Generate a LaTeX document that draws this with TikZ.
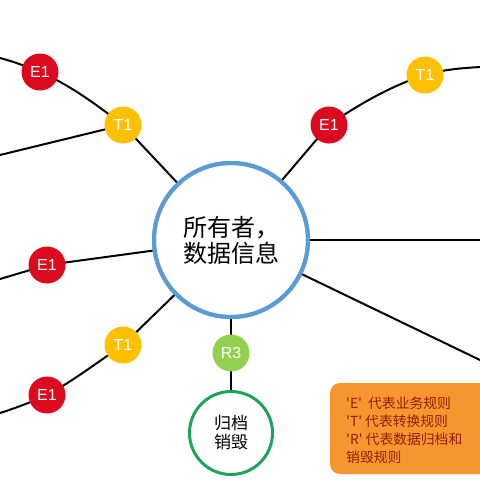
\documentclass[tikz,border=0pt]{standalone}
\usepackage{fontspec}
\setmainfont{Noto Sans CJK SC}
\newfontfamily\cjk{Noto Sans CJK SC}
\newfontfamily\latf{Liberation Sans}
\definecolor{cred}{HTML}{DC0A1E}
\definecolor{cyel}{HTML}{FFC000}
\definecolor{cgrn}{HTML}{92D050}
\definecolor{cdgrn}{HTML}{1FA35A}
\definecolor{cblue}{HTML}{5B9BD5}
\definecolor{corng}{HTML}{F7962F}
\definecolor{ctext}{HTML}{951E0A}
\tikzset{
  rule/.style={circle, minimum size=37pt, inner sep=0pt, text=white, font=\latf\fontsize{16}{18}\selectfont},
  ebox/.style={rule, fill=cred},
  tbox/.style={rule, fill=cyel},
  rbox/.style={rule, fill=cgrn},
  link/.style={line width=2pt, black},
}
\begin{document}
\begin{tikzpicture}[x=1pt, y=-1pt]
\useasboundingbox (0,0) rectangle (480,480);
\fill[white] (0,0) rectangle (480,480);
% nodes
\node[circle, draw=cblue, line width=4pt, fill=white, minimum size=154pt, inner sep=0pt, align=center,
      font=\fontsize{24}{26}\selectfont] (main) at (231,240) {所有者，\\数据信息};
\node[circle, draw=cdgrn, line width=3pt, fill=white, minimum size=83pt, inner sep=0pt, align=center,
      font=\fontsize{17}{19}\selectfont] (arch) at (231,433) {归档\\销毁};
\coordinate (pA) at (0,58);
\coordinate (pB) at (0,155);
\coordinate (pC) at (480,67);
\coordinate (pD) at (480,240);
\coordinate (pE) at (480,360);
\coordinate (pF) at (0,279);
\coordinate (pG) at (0,413);
\coordinate (vE1a) at (40,72);
\coordinate (vT1a) at (123,125);
\coordinate (vE1b) at (329,125);
\coordinate (vT1b) at (425,75);
\coordinate (vE1c) at (47,265);
\coordinate (vT1c) at (123,345);
\coordinate (vE1d) at (47,395);
\coordinate (vR3) at (231,353);
% connectors
\draw[link] (pA) .. controls +(15,4) and +(-15,-6) .. (vE1a) .. controls +(32,14) and +(-25,-19) .. (vT1a);
\draw[link] (vT1a) -- (pB);
\draw[link] (vT1a) -- (main);
\draw[link] (main) -- (vE1b);
\draw[link] (vE1b) .. controls +(30,-21) and +(-32,10) .. (vT1b) .. controls +(20,-6) and +(-15,1) .. (pC);
\draw[link] (main) -- (pD);
\draw[link] (main) -- (pE);
\draw[link] (main) -- (vE1c) -- (pF);
\draw[link] (main) -- (vT1c);
\draw[link] (vT1c) .. controls +(-28,19) and +(26,-14) .. (vE1d) .. controls +(-15,7) and +(10,-3) .. (pG);
\draw[link] (main) -- (vR3) -- (arch);
% rule nodes on top
\node[ebox] (E1a) at (vE1a) {E1};
\node[tbox] (T1a) at (vT1a) {T1};
\node[ebox] (E1b) at (vE1b) {E1};
\node[tbox] (T1b) at (vT1b) {T1};
\node[ebox] (E1c) at (vE1c) {E1};
\node[tbox] (T1c) at (vT1c) {T1};
\node[ebox] (E1d) at (vE1d) {E1};
\node[rbox] (R3) at (vR3) {R3};
% redraw main circle border over line ends
\node[circle, draw=cblue, line width=4pt, minimum size=154pt, inner sep=0pt] at (main.center) {};
% legend
\fill[corng, rounded corners=10pt] (330,383) rectangle (495,474);
\node[anchor=north west, inner sep=0pt, align=left, text=ctext,
      font=\cjk\fontsize{13.8}{18}\selectfont] (leg) at (346,397)
  {'E'\ \ 代表业务规则\\'T' 代表转换规则\\'R' 代表数据归档和\\销毁规则};
\end{tikzpicture}
\end{document}
